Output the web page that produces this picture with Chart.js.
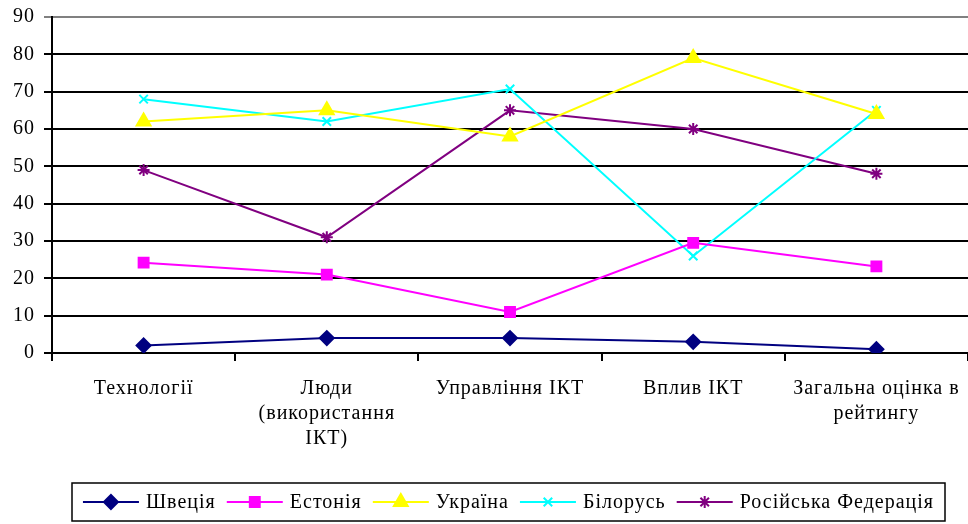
<!DOCTYPE html>
<html>
<head>
<meta charset="utf-8">
<script src="https://cdn.jsdelivr.net/npm/chart.js@4"></script>
<style>
  html, body { margin: 0; padding: 0; background: #fff; overflow: hidden; }
  #wrap { width: 968px; height: 524px; }
</style>
</head>
<body>
<div id="wrap"><canvas id="grafik"></canvas></div>
<script>
const categories = ['Технології', ['Люди', '(використання', 'ІКТ)'], 'Управління ІКТ', 'Вплив ІКТ', ['Загальна оцінка в', 'рейтингу']];
const yTicks = [0, 10, 20, 30, 40, 50, 60, 70, 80, 90];

const shvetsiya = [2, 4, 4, 3, 1];
const estoniya = [24.2, 21, 11, 29.5, 23.2];
const ukraina = [62, 65, 58, 79, 64];
const bilorus = [68, 62, 70.7, 26, 65];
const rosiya = [49, 31, 65, 60, 48];

const serif = '"Liberation Serif", "Times New Roman", serif';

function seria(label, data, color, style, radius) {
    return {
        label: label,
        data: data,
        borderColor: color,
        backgroundColor: color,
        borderWidth: 2,
        pointStyle: style,
        pointRadius: radius,
        pointHoverRadius: radius,
        pointBorderWidth: 2,
        tension: 0,
    };
}

// трохи розріджений шрифт, як в оригіналі
const rozridzhennya = {
    id: 'rozridzhennya',
    beforeUpdate(chart) { chart.ctx.letterSpacing = '1px'; },
    beforeDraw(chart) { chart.ctx.letterSpacing = '1px'; },
};

// легенда в рамці під графіком
const legendaVRamtsi = {
    id: 'legendaVRamtsi',
    afterDraw(chart) {
        const ctx = chart.ctx;
        const boxL = 72, boxT = 483, boxR = 945, boxB = 521;
        ctx.save();
        ctx.strokeStyle = '#000';
        ctx.lineWidth = 1.5;
        ctx.strokeRect(boxL, boxT, boxR - boxL, boxB - boxT);
        ctx.font = '20px ' + serif;
        ctx.textBaseline = 'middle';
        const lineW = 56, gap = 7, itemGap = 11;
        const items = chart.data.datasets;
        let total = 0;
        items.forEach((ds, i) => {
            total += lineW + gap + ctx.measureText(ds.label).width + (i < items.length - 1 ? itemGap : 0);
        });
        let x = (boxL + boxR) / 2 - total / 2;
        const y = (boxT + boxB) / 2;
        items.forEach(ds => {
            ctx.strokeStyle = ds.borderColor;
            ctx.lineWidth = 2;
            ctx.beginPath();
            ctx.moveTo(x, y);
            ctx.lineTo(x + lineW, y);
            ctx.stroke();
            ctx.fillStyle = ds.backgroundColor;
            Chart.helpers.drawPoint(ctx, {
                pointStyle: ds.pointStyle,
                radius: ds.pointRadius,
                borderWidth: 2,
                rotation: 0,
            }, x + lineW / 2, y);
            x += lineW + gap;
            ctx.fillStyle = '#000';
            ctx.fillText(ds.label, x, y + 1);
            x += ctx.measureText(ds.label).width + itemGap;
        });
        ctx.restore();
    }
};

const ctx = document.getElementById('grafik').getContext('2d');

new Chart(ctx, {
    type: 'line',
    data: {
        labels: categories,
        datasets: [
            seria('Швеція', shvetsiya, '#000080', 'rectRot', 7),
            seria('Естонія', estoniya, '#FF00FF', 'rect', 7),
            seria('Україна', ukraina, '#FFFF00', 'triangle', 8),
            seria('Білорусь', bilorus, '#00FFFF', 'crossRot', 6),
            seria('Російська Федерація', rosiya, '#800080', 'star', 6),
        ],
    },
    options: {
        responsive: true,
        maintainAspectRatio: false,
        animation: false,
        layout: { autoPadding: false, padding: { top: 17, right: 0, bottom: 0, left: 0 } },
        plugins: {
            legend: { display: false },
            tooltip: { enabled: false },
        },
        scales: {
            x: {
                offset: true,
                grid: {
                    offset: true,
                    drawOnChartArea: false,
                    drawTicks: true,
                    tickLength: 8,
                    color: '#000',
                    lineWidth: 2,
                },
                border: { display: true, color: '#000', width: 2 },
                ticks: {
                    color: '#000',
                    padding: 15,
                    maxRotation: 0,
                    autoSkip: false,
                    font: { family: serif, size: 20, lineHeight: 1.25 },
                },
                afterFit: scale => {
                    scale.height = 171;
                    scale.paddingLeft = 0;
                    scale.paddingRight = 0;
                },
            },
            y: {
                min: 0,
                max: 90,
                afterBuildTicks: scale => { scale.ticks = yTicks.map(v => ({ value: v })); },
                grid: {
                    color: c => (c.tick && c.tick.value === 90 ? '#808080' : '#000'),
                    lineWidth: 2,
                    tickLength: 8,
                },
                border: { display: true, color: '#000', width: 2 },
                ticks: {
                    color: '#000',
                    padding: 9,
                    font: { family: serif, size: 20 },
                },
                afterFit: scale => {
                    scale.width = 52;
                    scale.paddingTop = 0;
                    scale.paddingBottom = 0;
                },
            },
        },
    },
    plugins: [rozridzhennya, legendaVRamtsi],
});
</script>
</body>
</html>
